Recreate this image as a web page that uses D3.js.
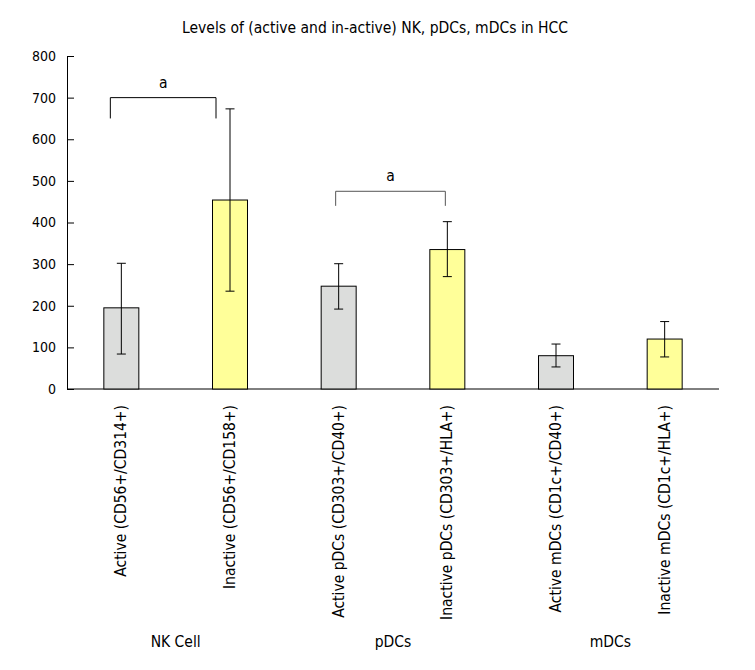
<!DOCTYPE html>
<html><head><meta charset="utf-8">
<script src="https://cdn.jsdelivr.net/npm/d3@7"></script>
<style>body{margin:0;background:#fff}svg{display:block}text{font-family:"DejaVu Sans",sans-serif;font-stretch:condensed;fill:#000}</style>
</head><body><svg id="c" width="755" height="670"></svg>
<script>
const categories = ["Active (CD56+/CD314+)","Inactive (CD56+/CD158+)","Active pDCs (CD303+/CD40+)","Inactive pDCs (CD303+/HLA+)","Active mDCs (CD1c+/CD40+)","Inactive mDCs (CD1c+/HLA+)"];
const values = [195, 454, 247, 335, 80, 120];
const errHigh = [302, 673, 301, 402, 108, 162];
const errLow = [84, 235, 192, 270, 53, 77];
const barKind = ["active","inactive","active","inactive","active","inactive"];
const groups = ["NK Cell","pDCs","mDCs"];
const yTicks = [0,100,200,300,400,500,600,700,800];
const brackets = [{from:0,to:1,top:700,leg:650,label:"a"},{from:2,to:3,top:475,leg:440,label:"a"}];
const title = "Levels of (active and in-active) NK, pDCs, mDCs in HCC";

const svg = d3.select("#c");
const x = d3.scaleBand().domain(categories).range([67,719]).paddingInner(0.678).paddingOuter(0.339);
const y = d3.scaleLinear().domain([0,800]).range([389,56]);
const colors = {active:"#dcdddc", inactive:"#ffff99"};
const cx = d => x(d)+x.bandwidth()/2;

svg.append("text").attr("x",375).attr("y",33).attr("text-anchor","middle").style("font-size","15.5px").text(title);

// y axis
const ya = svg.append("g").attr("transform","translate(67,0)").call(d3.axisLeft(y).tickValues(yTicks).tickSizeInner(-7).tickSizeOuter(0).tickPadding(11));
ya.select(".domain").attr("stroke","#000");
ya.selectAll(".tick line").attr("stroke","#000");
ya.selectAll(".tick text").style("font-size","14px").attr("font-family",null);

// x axis line
svg.append("line").attr("x1",67).attr("x2",719).attr("y1",y(0)).attr("y2",y(0)).attr("stroke","#000");

// bars
svg.selectAll("rect.bar").data(categories).join("rect").attr("class","bar")
  .attr("x",d=>x(d)).attr("width",x.bandwidth())
  .attr("y",(d,i)=>y(values[i])).attr("height",(d,i)=>y(0)-y(values[i]))
  .attr("fill",(d,i)=>colors[barKind[i]]).attr("stroke","#000").attr("stroke-width",1);

// error bars
const eb = svg.selectAll("g.err").data(categories).join("g").attr("class","err");
eb.append("line").attr("x1",cx).attr("x2",cx)
  .attr("y1",(d,i)=>y(errHigh[i])).attr("y2",(d,i)=>y(errLow[i])).attr("stroke","#000");
eb.append("line").attr("x1",d=>cx(d)-4.5).attr("x2",d=>cx(d)+4.5)
  .attr("y1",(d,i)=>y(errHigh[i])).attr("y2",(d,i)=>y(errHigh[i])).attr("stroke","#000");
eb.append("line").attr("x1",d=>cx(d)-4.5).attr("x2",d=>cx(d)+4.5)
  .attr("y1",(d,i)=>y(errLow[i])).attr("y2",(d,i)=>y(errLow[i])).attr("stroke","#000");

// brackets
const bOff = [[-11,-14],[-3,-2]];
brackets.forEach((b,k)=>{
  const x1 = cx(categories[b.from])+bOff[k][0];
  const x2 = cx(categories[b.to])+bOff[k][1];
  svg.append("path").attr("d",`M${x1},${y(b.leg)}V${y(b.top)}H${x2}V${y(b.leg)}`)
    .attr("fill","none").attr("stroke",k===0?"#000":"#555");
  svg.append("text").attr("x",(x1+x2)/2).attr("y",y(b.top)-10).attr("text-anchor","middle").style("font-size","15.5px").text(b.label);
});

// x labels
svg.selectAll("text.xl").data(categories).join("text").attr("class","xl")
  .attr("transform",d=>`translate(${cx(d)+5},405) rotate(-90)`)
  .attr("text-anchor","end").style("font-size","15.5px").text(d=>d);

// group labels
svg.selectAll("text.gl").data(groups).join("text").attr("class","gl")
  .attr("x",(d,i)=>(cx(categories[2*i])+cx(categories[2*i+1]))/2).attr("y",647)
  .attr("text-anchor","middle").style("font-size","15.5px").text(d=>d);
</script></body></html>
